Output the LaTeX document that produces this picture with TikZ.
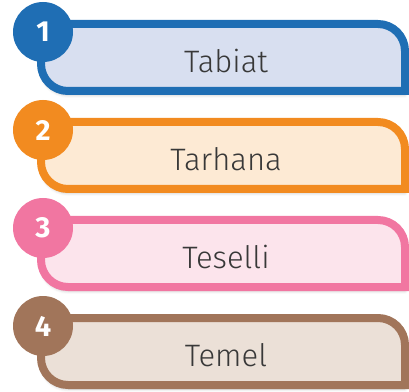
\documentclass[tikz,border=0pt]{standalone}
\usepackage{fontspec}
\usetikzlibrary{shadows.blur}
\setmainfont{Fira Sans}[UprightFont=* Light, BoldFont=* Bold]
\definecolor{tabblue}{HTML}{1F6EB4}
\definecolor{tabblueL}{HTML}{D8DFF0}
\definecolor{taborange}{HTML}{F28B20}
\definecolor{taborangeL}{HTML}{FDEAD4}
\definecolor{tabpink}{HTML}{F176A1}
\definecolor{tabpinkL}{HTML}{FCE4EC}
\definecolor{tabbrown}{HTML}{A1755A}
\definecolor{tabbrownL}{HTML}{EBE0D7}
\tikzset{
  tab/.style={line width=8pt, blur shadow={shadow xshift=0pt, shadow yshift=-4pt,
      shadow blur radius=3pt, shadow opacity=25}},
  numdisc/.style={circle, minimum size=60pt, inner sep=0pt, text=white,
      font=\fontsize{29}{29}\selectfont\bfseries},
  tablabel/.style={anchor=base, text=black!78, font=\fontsize{31}{31}\selectfont}
}
\begin{document}
\begin{tikzpicture}[x=1pt, y=1pt]
    \useasboundingbox (0,0) rectangle (409,391);
    \foreach \i/\c/\word in {0/tabblue/Tabiat, 1/taborange/Tarhana, 2/tabpink/Teselli, 3/tabbrown/Temel} {
        \pgfmathsetmacro{\top}{391-20-98*\i}
        \draw[tab, draw=\c, fill=\c L] (41,\top-4) -- (378,\top-4)
            arc[start angle=90, end angle=0, radius=27] -- (405,\top-71)
            -- (68,\top-71) arc[start angle=270, end angle=180, radius=27] -- cycle;
        \node[numdisc, fill=\c] (n\i) at (43,\top-12) {\pgfmathparse{int(\i+1)}\pgfmathresult};
        \node[tablabel] (w\i) at (226,\top-52.5) {\word};
    }
\end{tikzpicture}
\end{document}
